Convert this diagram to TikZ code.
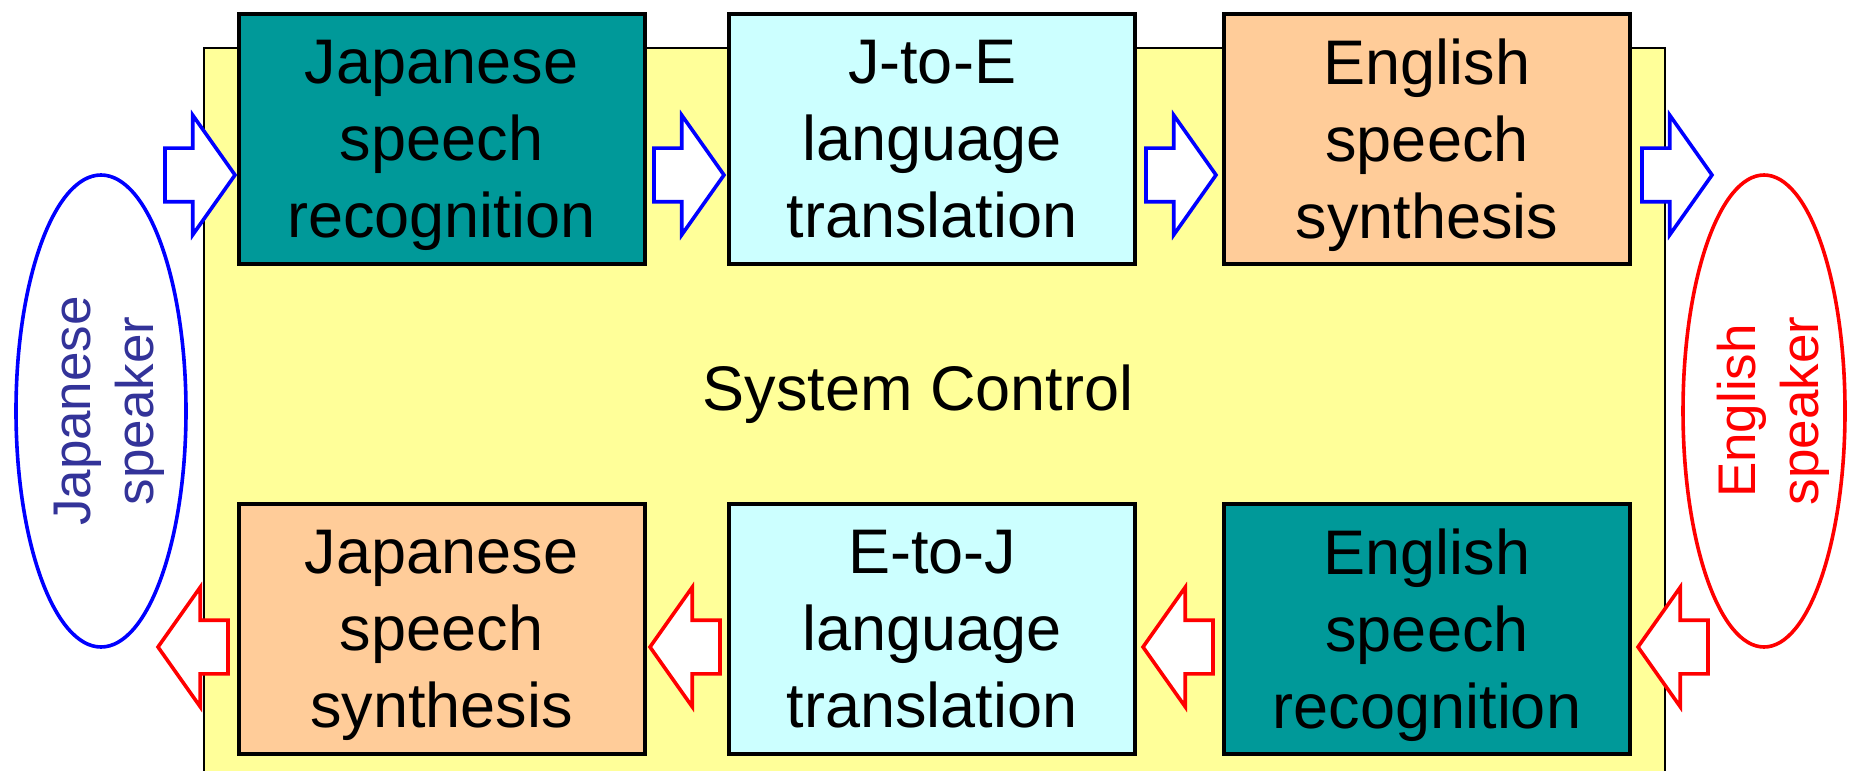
\documentclass[tikz,border=0pt]{standalone}
\usepackage{fontspec}
\setmainfont{Liberation Sans}
\usetikzlibrary{shapes.geometric,shapes.arrows}
\definecolor{boxteal}{HTML}{009999}
\definecolor{boxcyan}{HTML}{CCFFFF}
\definecolor{boxpeach}{HTML}{FFCC99}
\definecolor{bgyellow}{HTML}{FFFF99}
\definecolor{arrowblue}{HTML}{0000FF}
\definecolor{arrowred}{HTML}{FF0000}
\definecolor{jptext}{HTML}{333399}
\begin{document}
\begin{tikzpicture}[x=0.5pt,y=-0.5pt,
  box/.style={draw=black, line width=2pt, minimum width=203pt, minimum height=125pt,
    inner sep=0pt, outer sep=0pt, align=center, font=\fontsize{31.5}{38.5}\selectfont},
  barrow/.style={single arrow, draw=arrowblue, fill=white, line width=1.8pt,
    minimum height=35pt, inner xsep=0pt, inner ysep=12.5pt,
    single arrow head extend=16.5pt, single arrow tip angle=109.5,
    single arrow head indent=0pt, outer sep=0pt, anchor=tip},
  rarrow/.style={barrow, draw=arrowred, shape border rotate=180},
  spk/.style={ellipse, line width=1.8pt, fill=white, minimum height=236pt,
    inner sep=0pt, outer sep=0pt},
  spktext/.style={rotate=90, align=center, inner sep=0pt,
    font=\fontsize{26.5}{31.5}\selectfont}
]
\useasboundingbox (0,0) rectangle (1850,770);
% system control background
\draw[fill=bgyellow, draw=black, line width=0.6pt] (204,48) rectangle (1665,800);
\node[anchor=base, font=\fontsize{31.5}{38.5}\selectfont] (sys) at (918,410) {System Control};

% speakers
\node[spk, draw=arrowblue, minimum width=85pt] (jsp) at (101,411) {};
\node[spktext, text=jptext] (jspt) at (109,411) {Japanese\\speaker};
\node[spk, draw=arrowred, minimum width=81pt] (esp) at (1764,411) {};
\node[spktext, text=arrowred] (espt) at (1773,411) {English\\speaker};

% top row
\node[box, fill=boxteal] (jsr) at (441.5,139) {Japanese\\speech\\\smash{recognition}};
\node[box, fill=boxcyan] (jte) at (932,139) {J-to-E\\language\\\smash{translation}};
\node[box, fill=boxpeach] (ess) at (1427,139) {English\\speech\\\smash{synthesis}};

% bottom row
\node[box, fill=boxpeach] (jss) at (441.5,629) {Japanese\\speech\\\smash{synthesis}};
\node[box, fill=boxcyan] (etj) at (932,629) {E-to-J\\language\\\smash{translation}};
\node[box, fill=boxteal] (esr) at (1427,629) {English\\speech\\\smash{recognition}};

% blue block arrows (Japanese -> English)
\node[barrow] (a1) at (235,175) {};
\node[barrow] (a2) at (724,175) {};
\node[barrow] (a3) at (1216,175) {};
\node[barrow] (a4) at (1712,175) {};

% red block arrows (English -> Japanese)
\node[rarrow] (r1) at (1638,647) {};
\node[rarrow] (r2) at (1143,647) {};
\node[rarrow] (r3) at (650,647) {};
\node[rarrow] (r4) at (158,647) {};
\end{tikzpicture}
\end{document}
